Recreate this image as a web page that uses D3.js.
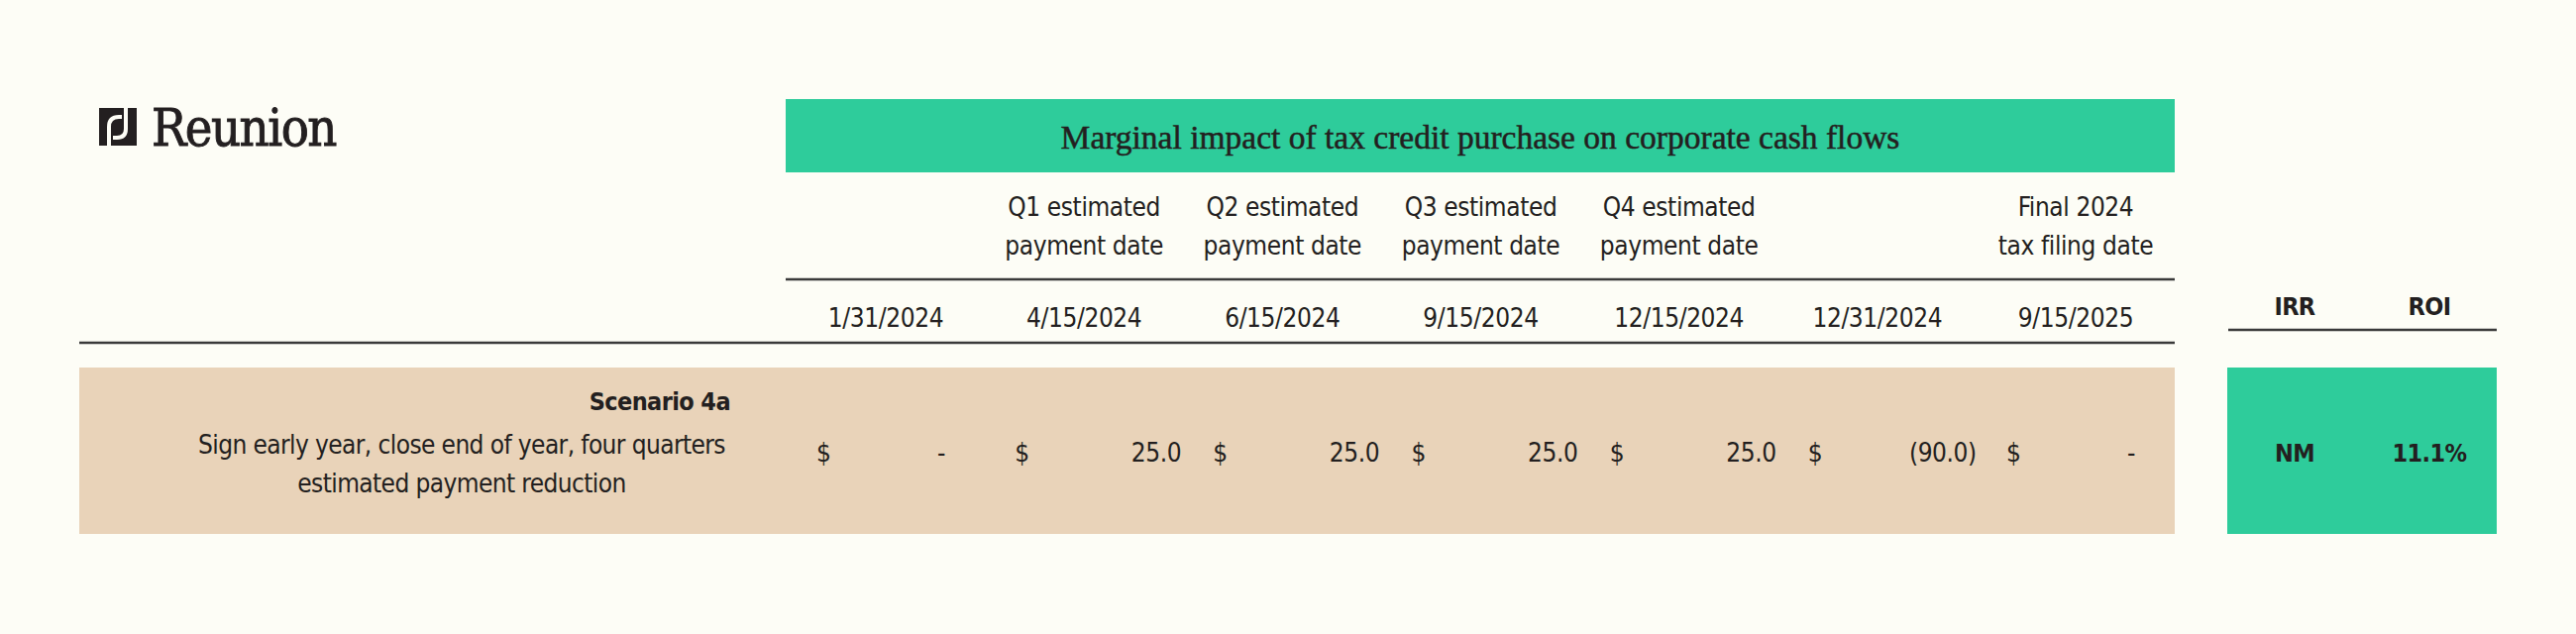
<!DOCTYPE html>
<html>
<head>
<meta charset="utf-8">
<script src="https://cdn.jsdelivr.net/npm/d3@7"></script>
<style>
  html, body { margin: 0; padding: 0; background: #fdfdf6; }
  svg { display: block; }
</style>
</head>
<body>
<div id="chart"></div>
<script>
// table content
const title = 'Marginal impact of tax credit purchase on corporate cash flows'
const headerTop = ['', 'Q1 estimated', 'Q2 estimated', 'Q3 estimated', 'Q4 estimated', '', 'Final 2024']
const headerBottom = ['', 'payment date', 'payment date', 'payment date', 'payment date', '', 'tax filing date']
const dates = ['1/31/2024', '4/15/2024', '6/15/2024', '9/15/2024', '12/15/2024', '12/31/2024', '9/15/2025']
const cashFlows = [0, 25.0, 25.0, 25.0, 25.0, -90.0, 0]
const metricLabels = ['IRR', 'ROI']
const metricValues = ['NM', '11.1%']
const scenarioName = 'Scenario 4a'
const scenarioDesc = ['Sign early year, close end of year, four quarters', 'estimated payment reduction']

const width = 2600
const height = 640
const sans = '"DejaVu Sans Condensed", "DejaVu Sans", sans-serif'
const serif = '"Liberation Serif", serif'
const ink = '#231f20'
const green = '#2ecc9b'
const tan = '#e9d3b9'
const rule = '#3a3a3a'
const bg = '#fdfdf6'

const svg = d3
  .select('#chart')
  .append('svg')
  .attr('width', width)
  .attr('height', height)

svg.append('rect').attr('width', width).attr('height', height).attr('fill', bg)

// column positions (centre of each cash flow column)
const x = d3.scalePoint().domain(d3.range(dates.length)).range([894, 2095])
const xm = d3.scalePoint().domain(d3.range(metricLabels.length)).range([2316, 2452])
const tableLeft = 80
const tableRight = 2195
const flowsLeft = 793

// logo
const logo = svg.append('g').attr('transform', 'translate(100,109)')
logo.append('rect').attr('width', 38).attr('height', 38).attr('fill', ink)
logo
  .append('path')
  .attr('d', 'M10,38 V19 Q10,9 20,9 H23')
  .attr('fill', 'none')
  .attr('stroke', bg)
  .attr('stroke-width', 4)
logo
  .append('path')
  .attr('d', 'M27,0 V21 Q27,30 18,30 H14')
  .attr('fill', 'none')
  .attr('stroke', bg)
  .attr('stroke-width', 4)
svg
  .append('text')
  .attr('x', 153)
  .attr('y', 147)
  .attr('font-family', '"DejaVu Serif Condensed", "DejaVu Serif", serif')
  .attr('font-size', 52)
  .attr('letter-spacing', -1.5)
  .attr('fill', ink)
  .attr('stroke', ink)
  .attr('stroke-width', 0.9)
  .text('Reunion')

// title band
svg
  .append('rect')
  .attr('x', flowsLeft)
  .attr('y', 100)
  .attr('width', tableRight - flowsLeft)
  .attr('height', 74)
  .attr('fill', green)
svg
  .append('text')
  .attr('x', (flowsLeft + tableRight) / 2)
  .attr('y', 150)
  .attr('text-anchor', 'middle')
  .attr('font-family', serif)
  .attr('font-size', 33.5)
  .attr('fill', ink)
  .attr('stroke', ink)
  .attr('stroke-width', 0.5)
  .text(title)

// column headers
const head = svg
  .append('g')
  .attr('font-family', sans)
  .attr('font-size', 26)
  .attr('letter-spacing', -0.4)
  .attr('fill', ink)
  .attr('text-anchor', 'middle')
head
  .selectAll('.top')
  .data(headerTop)
  .join('text')
  .attr('class', 'top')
  .attr('x', (d, i) => x(i))
  .attr('y', 218)
  .text((d) => d)
head
  .selectAll('.bottom')
  .data(headerBottom)
  .join('text')
  .attr('class', 'bottom')
  .attr('x', (d, i) => x(i))
  .attr('y', 257)
  .text((d) => d)
head
  .selectAll('.date')
  .data(dates)
  .join('text')
  .attr('class', 'date')
  .attr('x', (d, i) => x(i))
  .attr('y', 330)
  .text((d) => d)

svg.append('line').attr('x1', flowsLeft).attr('x2', tableRight).attr('y1', 282).attr('y2', 282).attr('stroke', rule).attr('stroke-width', 2.5)
svg.append('line').attr('x1', tableLeft).attr('x2', tableRight).attr('y1', 346).attr('y2', 346).attr('stroke', rule).attr('stroke-width', 2.5)

// metric headers
svg
  .append('g')
  .selectAll('text')
  .data(metricLabels)
  .join('text')
  .attr('x', (d, i) => xm(i))
  .attr('y', 318)
  .attr('text-anchor', 'middle')
  .attr('font-family', sans)
  .attr('font-size', 25)
  .attr('font-weight', 'bold')
  .attr('letter-spacing', -0.6)
  .attr('fill', ink)
  .text((d) => d)
svg.append('line').attr('x1', 2249).attr('x2', 2520).attr('y1', 333).attr('y2', 333).attr('stroke', rule).attr('stroke-width', 2.5)

// scenario row
svg.append('rect').attr('x', tableLeft).attr('y', 371).attr('width', tableRight - tableLeft).attr('height', 168).attr('fill', tan)
svg.append('rect').attr('x', 2248).attr('y', 371).attr('width', 272).attr('height', 168).attr('fill', green)

svg
  .append('text')
  .attr('x', 737)
  .attr('y', 414)
  .attr('text-anchor', 'end')
  .attr('font-family', sans)
  .attr('font-size', 25)
  .attr('font-weight', 'bold')
  .attr('letter-spacing', -0.6)
  .attr('fill', ink)
  .text(scenarioName)
svg
  .append('g')
  .selectAll('text')
  .data(scenarioDesc)
  .join('text')
  .attr('x', 466)
  .attr('y', (d, i) => 458 + i * 39)
  .attr('text-anchor', 'middle')
  .attr('font-family', sans)
  .attr('font-size', 26)
  .attr('letter-spacing', -0.6)
  .attr('fill', ink)
  .text((d) => d)

const fmt = (v) => (v === 0 ? '-' : v < 0 ? `(${d3.format('.1f')(-v)})` : d3.format('.1f')(v))
const valueRight = (v, i) => x(i) + (v === 0 ? 60 : v < 0 ? 100 : 98)

const row = svg.append('g').attr('font-family', sans).attr('font-size', 26).attr('letter-spacing', -0.4).attr('fill', ink)
row
  .selectAll('.dollar')
  .data(cashFlows)
  .join('text')
  .attr('class', 'dollar')
  .attr('x', (d, i) => x(i) - 70)
  .attr('y', 466)
  .text('$')
row
  .selectAll('.value')
  .data(cashFlows)
  .join('text')
  .attr('class', 'value')
  .attr('x', (d, i) => valueRight(d, i))
  .attr('y', 466)
  .attr('text-anchor', 'end')
  .text((d) => fmt(d))

svg
  .append('g')
  .selectAll('text')
  .data(metricValues)
  .join('text')
  .attr('x', (d, i) => xm(i))
  .attr('y', 466)
  .attr('text-anchor', 'middle')
  .attr('font-family', sans)
  .attr('font-size', 25)
  .attr('font-weight', 'bold')
  .attr('letter-spacing', -0.6)
  .attr('fill', ink)
  .text((d) => d)
</script>
</body>
</html>
